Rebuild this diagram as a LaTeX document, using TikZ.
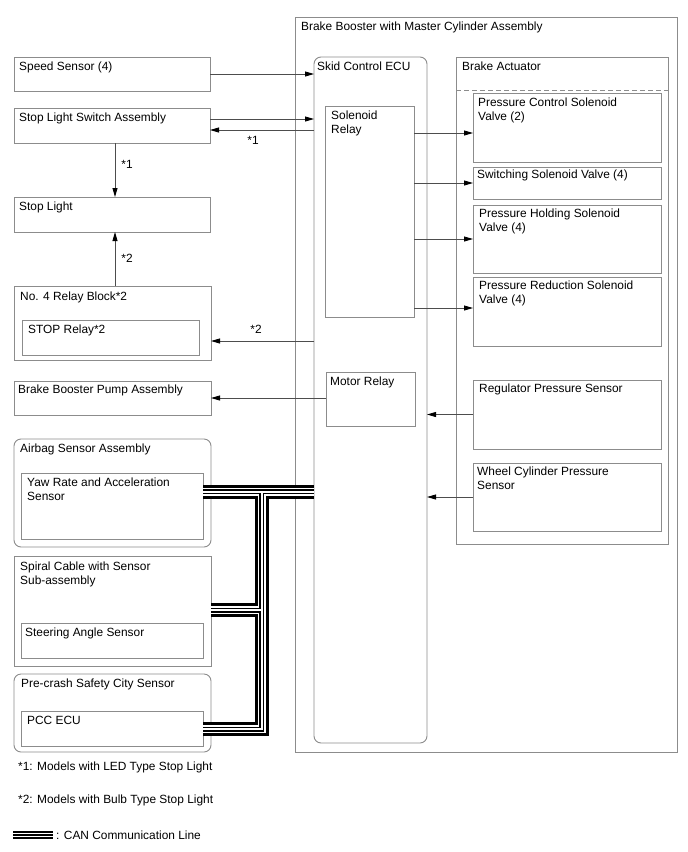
\documentclass[tikz,border=0pt]{standalone}
\usepackage{fontspec}
\setmainfont{Liberation Sans}
\usetikzlibrary{arrows.meta,calc}
\definecolor{boxc}{HTML}{8C8C8C}
\definecolor{linec}{HTML}{4D4D4D}
\newcommand{\mybox}[6]{\node[box,#6,minimum width={(#4)-(#2)},minimum height={(#5)-(#3)}] (#1) at (#2,#3) {};}
\newcommand{\mylabel}[4]{\node[lbl] (#1-t) at ($(#1.north west)+(#2,#3)$) {#4};}
\begin{document}
\begin{tikzpicture}[x=1pt,y=-1pt,
  box/.style={draw=boxc,line width=0.9pt,anchor=north west,inner sep=0pt,outer sep=0pt},
  lbl/.style={anchor=north west,inner sep=0pt,align=left,font=\fontsize{11.9}{14}\selectfont},
  notelbl/.style={inner sep=0pt,font=\fontsize{11.9}{14}\selectfont},
  arr/.style={draw=linec,line width=0.8pt,-{Triangle[length=9pt,width=5pt,color=black]}},
  can/.style={draw=black,line width=14pt,line join=miter,
    postaction={draw=white,line width=8pt},
    postaction={draw=black,line width=5pt},
    postaction={draw=white,line width=2pt}},
  canleg/.style={draw=black,line width=8.5pt,
    postaction={draw=white,line width=4.5pt},
    postaction={draw=black,line width=1.6pt}}]
\useasboundingbox (0,0) rectangle (688,852);
\fill[white] (0,0) rectangle (688,852);

% right assembly
\mybox{outer}{295}{17}{677}{752}{}
\mylabel{outer}{6}{5}{Brake Booster with Master Cylinder Assembly}
\mybox{ecu}{314}{57}{427}{743}{rounded corners=7pt}
\mylabel{ecu}{3}{5}{Skid Control ECU}
\mybox{sol}{325}{106}{414}{317}{}
\mylabel{sol}{6}{5}{Solenoid\\Relay}
\mybox{motor}{326}{372}{415}{426}{}
\mylabel{motor}{4}{5}{Motor Relay}
\mybox{act}{456}{57}{668}{544}{}
\mylabel{act}{6}{5}{Brake Actuator}
\coordinate (d1) at ($(act.north west)+(0,33)$);
\coordinate (d2) at ($(act.north east)+(0,33)$);
\draw[boxc,line width=0.9pt,dash pattern=on 5pt off 3pt] (d1) -- (d2);
\mybox{pc}{473}{93}{661}{162}{}
\mylabel{pc}{5}{5}{Pressure Control Solenoid\\Valve (2)}
\mybox{sw}{473}{167}{661}{199}{}
\mylabel{sw}{4}{3}{Switching Solenoid Valve (4)}
\mybox{ph}{473}{205}{661}{273}{}
\mylabel{ph}{6}{4}{Pressure Holding Solenoid\\Valve (4)}
\mybox{pr}{473}{277}{661}{346}{}
\mylabel{pr}{6}{4}{Pressure Reduction Solenoid\\Valve (4)}
\mybox{reg}{473}{380}{661}{449}{}
\mylabel{reg}{6}{4}{Regulator Pressure Sensor}
\mybox{wc}{473}{463}{661}{531}{}
\mylabel{wc}{4}{4}{Wheel Cylinder Pressure\\Sensor}

% left column
\mybox{speed}{14}{57}{210}{91}{}
\mylabel{speed}{5}{5}{Speed Sensor (4)}
\mybox{sls}{14}{108}{210}{143}{}
\mylabel{sls}{5}{5}{Stop Light Switch Assembly}
\mybox{sl}{14}{197}{210}{232}{}
\mylabel{sl}{5}{5}{Stop Light}
\mybox{no4}{14}{286}{211}{360}{}
\mylabel{no4}{6}{6}{No. 4 Relay Block*2}
\mybox{stop}{22}{320}{199}{355}{}
\mylabel{stop}{6}{5}{STOP Relay*2}
\mybox{pump}{14}{381}{211}{415}{}
\mylabel{pump}{4}{4}{Brake Booster Pump Assembly}
\mybox{airbag}{14}{439}{211}{547}{rounded corners=7pt}
\mylabel{airbag}{6}{5}{Airbag Sensor Assembly}
\mybox{yaw}{21}{473}{203}{539}{}
\mylabel{yaw}{6}{5}{Yaw Rate and Acceleration\\Sensor}
\mybox{spiral}{14}{556}{211}{666}{}
\mylabel{spiral}{6}{6}{Spiral Cable with Sensor\\Sub-assembly}
\mybox{steer}{21}{623}{203}{658}{}
\mylabel{steer}{4}{5}{Steering Angle Sensor}
\mybox{pcs}{14}{674}{211}{752}{rounded corners=7pt}
\mylabel{pcs}{7}{5}{Pre-crash Safety City Sensor}
\mybox{pcc}{21}{711}{203}{746}{}
\mylabel{pcc}{6}{5}{PCC ECU}

% connectors
\draw[arr] (speed.east) -- (speed.east -| ecu.west);
\coordinate (s1) at ($(sls.east)+(0,-6.5)$);
\coordinate (s2) at ($(sls.east)+(0,4.5)$);
\draw[arr] (s1) -- (s1 -| ecu.west);
\draw[arr] (s2 -| ecu.west) -- (s2);
\node[notelbl] (m1) at (253,140) {*1};
\coordinate (v1) at ($(sls.south west)+(101,0)$);
\draw[arr] (v1) -- (v1 |- sl.north);
\node[notelbl] (m2) at (127,164) {*1};
\coordinate (v2) at ($(no4.north west)+(101,0)$);
\draw[arr] (v2) -- (v2 |- sl.south);
\node[notelbl] (m3) at (127,258) {*2};
\coordinate (r2) at ($(no4.east)+(0,18)$);
\draw[arr] (r2 -| ecu.west) -- (r2);
\node[notelbl] (m4) at (256,329) {*2};
\draw[arr] (motor.west |- pump.east) -- (pump.east);

\coordinate (pcy) at ($(pc.west)+(0,5.5)$);
\draw[arr] (pcy -| sol.east) -- (pcy);
\draw[arr] (sw.west -| sol.east) -- (sw.west);
\draw[arr] (ph.west -| sol.east) -- (ph.west);
\coordinate (pry) at ($(pr.west)+(0,-3.5)$);
\draw[arr] (pry -| sol.east) -- (pry);
\draw[arr] (reg.west) -- (reg.west -| ecu.east);
\draw[arr] (wc.west) -- (wc.west -| ecu.east);

% CAN bus
\coordinate (cy) at ($(yaw.north east)+(0,18.5)$);
\coordinate (cj) at ($(cy)+(58.5,0)$);
\coordinate (cp) at ($(pcc.north east)+(0,18)$);
\coordinate (cs) at ($(spiral.north east)+(0,54)$);
\draw[can] (cy) -- (cy -| ecu.west)
  (cj) -- (cj |- cp) -- (cp)
  (cs) -- (cs -| cj);

% legend
\node[lbl] (f1) at (18,762) {*1: Models with LED Type Stop Light};
\node[lbl] (f2) at (18,795) {*2: Models with Bulb Type Stop Light};
\coordinate (lg1) at (13,835);
\coordinate (lg2) at (53,835);
\draw[canleg] (lg1) -- (lg2);
\node[lbl,anchor=west] (f3) at (56,835) {: CAN Communication Line};
\end{tikzpicture}
\end{document}
